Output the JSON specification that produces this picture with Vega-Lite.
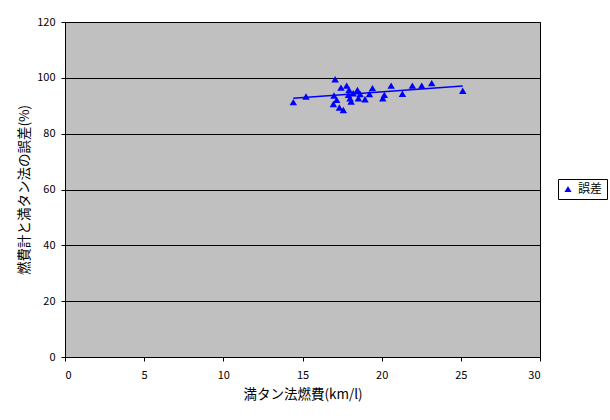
{
  "$schema": "https://vega.github.io/schema/vega-lite/v6.json",
  "width": 475,
  "height": 335,
  "autosize": "none",
  "padding": {"left": 65, "top": 22, "right": 70, "bottom": 63},
  "background": "white",
  "config": {
    "font": "Noto Sans CJK JP",
    "view": {"fill": "#C0C0C0", "stroke": "black", "strokeWidth": 1},
    "axis": {
      "domainColor": "black",
      "tickColor": "black",
      "labelColor": "black",
      "titleColor": "black",
      "labelFont": "Noto Sans CJK JP",
      "titleFont": "Noto Sans CJK JP",
      "labelFontSize": 11,
      "titleFontSize": 13.5,
      "titleFontWeight": "normal",
      "tickSize": 4
    }
  },
  "datasets": {
    "pts": [
      {"x": 14.42, "y": 91.3, "s": "誤差"},
      {"x": 15.22, "y": 93.3, "s": "誤差"},
      {"x": 17.06, "y": 99.5, "s": "誤差"},
      {"x": 16.99, "y": 93.7, "s": "誤差"},
      {"x": 16.95, "y": 90.6, "s": "誤差"},
      {"x": 17.16, "y": 92.1, "s": "誤差"},
      {"x": 17.43, "y": 96.5, "s": "誤差"},
      {"x": 17.79, "y": 97.2, "s": "誤差"},
      {"x": 17.33, "y": 89.4, "s": "誤差"},
      {"x": 17.58, "y": 88.5, "s": "誤差"},
      {"x": 17.94, "y": 95.7, "s": "誤差"},
      {"x": 17.9, "y": 93.9, "s": "誤差"},
      {"x": 18.0, "y": 92.7, "s": "誤差"},
      {"x": 18.07, "y": 91.5, "s": "誤差"},
      {"x": 18.2, "y": 94.5, "s": "誤差"},
      {"x": 18.47, "y": 95.7, "s": "誤差"},
      {"x": 18.64, "y": 94.2, "s": "誤差"},
      {"x": 18.53, "y": 92.7, "s": "誤差"},
      {"x": 18.95, "y": 92.3, "s": "誤差"},
      {"x": 19.23, "y": 94.2, "s": "誤差"},
      {"x": 19.42, "y": 96.3, "s": "誤差"},
      {"x": 20.07, "y": 92.7, "s": "誤差"},
      {"x": 20.17, "y": 93.9, "s": "誤差"},
      {"x": 20.6, "y": 97.2, "s": "誤差"},
      {"x": 21.31, "y": 94.3, "s": "誤差"},
      {"x": 21.94, "y": 97.2, "s": "誤差"},
      {"x": 22.53, "y": 97.2, "s": "誤差"},
      {"x": 23.16, "y": 98.1, "s": "誤差"},
      {"x": 25.12, "y": 95.4, "s": "誤差"}
    ],
    "trend": [
      {"x": 14.42, "y": 92.7},
      {"x": 25.12, "y": 97.1}
    ]
  },
  "layer": [
    {
      "data": {"name": "trend"},
      "mark": {"type": "line", "color": "#0000FF", "strokeWidth": 1.5},
      "encoding": {
        "x": {"field": "x", "type": "quantitative"},
        "y": {"field": "y", "type": "quantitative"}
      }
    },
    {
      "data": {"name": "pts"},
      "mark": {"type": "point", "shape": "triangle-up", "filled": true, "size": 55, "opacity": 1},
      "encoding": {
        "x": {
          "field": "x", "type": "quantitative",
          "scale": {"domain": [0, 30], "nice": false, "zero": true},
          "axis": {"values": [0, 5, 10, 15, 20, 25, 30], "grid": false, "title": "満タン法燃費(km/l)", "titlePadding": 7, "labelPadding": 8}
        },
        "y": {
          "field": "y", "type": "quantitative",
          "scale": {"domain": [0, 120], "nice": false},
          "axis": {"values": [0, 20, 40, 60, 80, 100, 120], "grid": true, "gridColor": "black", "gridOpacity": 1, "title": "燃費計と満タン法の誤差(%)", "titlePadding": 5, "labelPadding": 6}
        },
        "color": {
          "field": "s", "type": "nominal",
          "scale": {"domain": ["誤差"], "range": ["#0000FF"]},
          "legend": {
            "title": null,
            "orient": "none",
            "legendX": 493,
            "legendY": 157,
            "symbolType": "triangle-up",
            "symbolSize": 50,
            "labelFontSize": 12,
            "labelColor": "black",
            "strokeColor": "black",
            "padding": 4,
            "fillColor": "white"
          }
        }
      }
    }
  ]
}
